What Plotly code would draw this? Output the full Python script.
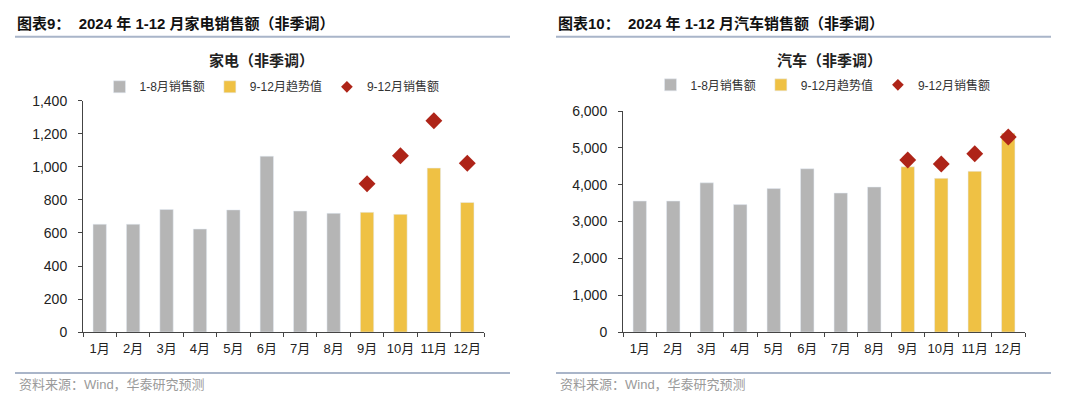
import plotly.graph_objects as go

months = ["1月", "2月", "3月", "4月", "5月", "6月", "7月", "8月", "9月", "10月", "11月", "12月"]
actual_months = months[:8]
trend_months = months[8:]

# 家电 (appliances)
app_actual = [653, 653, 742, 624, 740, 1065, 733, 719]
app_trend = [725, 713, 993, 785]
app_sales = [898, 1068, 1280, 1022]

# 汽车 (autos)
car_actual = [3557, 3557, 4052, 3461, 3896, 4435, 3774, 3939]
car_trend = [4487, 4174, 4365, 5400]
car_sales = [4670, 4565, 4843, 5296]

series_names = ["1-8月销售额", "9-12月趋势值", "9-12月销售额"]
header_titles = ["图表9：  2024 年 1-12 月家电销售额（非季调）", "图表10：  2024 年 1-12 月汽车销售额（非季调）"]
chart_titles = ["家电（非季调）", "汽车（非季调）"]
source_text = "资料来源：Wind，华泰研究预测"

GRAY = "#b5b5b5"
YELLOW = "#efc144"
RED = "#ae2418"
LINE = "#a9b5c9"
FONT = "Liberation Sans, Arial, Noto Sans CJK SC, sans-serif"

W, H = 1080, 408

def px(x):
    return x / W

def py(y):
    return (H - y) / H

fig = go.Figure()

panels = [
    dict(actual=app_actual, trend=app_trend, sales=app_sales, xa="x", ya="y", legend="legend",
         xdom=(83, 484), ydom=(337.3, 96.7), yrange=[0, 1400], dtick=200),
    dict(actual=car_actual, trend=car_trend, sales=car_sales, xa="x2", ya="y2", legend="legend2",
         xdom=(623, 1025), ydom=(337.3, 107.3), yrange=[0, 6000], dtick=1000),
]

for p in panels:
    fig.add_trace(go.Bar(x=actual_months, y=p["actual"], name=series_names[0], marker_color=GRAY,
                         xaxis=p["xa"], yaxis=p["ya"], legend=p["legend"]))
    fig.add_trace(go.Bar(x=trend_months, y=p["trend"], name=series_names[1], marker_color=YELLOW,
                         xaxis=p["xa"], yaxis=p["ya"], legend=p["legend"]))
    fig.add_trace(go.Scatter(x=trend_months, y=p["sales"], name=series_names[2], mode="markers",
                             marker=dict(symbol="diamond", size=13, color=RED), showlegend=False,
                             xaxis=p["xa"], yaxis=p["ya"], legend=p["legend"]))
    # legend-only entry with a smaller symbol
    fig.add_trace(go.Scatter(x=[None], y=[None], name=series_names[2], mode="markers",
                             marker=dict(symbol="diamond", size=9, color=RED),
                             xaxis=p["xa"], yaxis=p["ya"], legend=p["legend"]))

axis_common = dict(showline=True, linecolor="#444", linewidth=1, ticks="outside", ticklen=4,
                   tickcolor="#444", showgrid=False, zeroline=False)

layout_axes = {}
for i, p in enumerate(panels):
    sfx = "" if i == 0 else "2"
    layout_axes["xaxis" + sfx] = dict(axis_common, domain=[px(p["xdom"][0]), px(p["xdom"][1])],
                                      anchor="y" + sfx, type="category", categoryorder="array",
                                      categoryarray=months, tickson="boundaries",
                                      range=[-0.5, 11.5], tickangle=0, ticklabelstandoff=4,
                                      tickfont=dict(family=FONT, size=13, color="#222"))
    layout_axes["yaxis" + sfx] = dict(axis_common, domain=[py(p["ydom"][0]), py(p["ydom"][1])],
                                      anchor="x" + sfx, range=p["yrange"], dtick=p["dtick"],
                                      tickformat=",d", ticklabelstandoff=8,
                                      tickfont=dict(family=FONT, size=14, color="#222"))

legend_common = dict(orientation="h", xanchor="center", yanchor="middle",
                     font=dict(family=FONT, size=12, color="#333"), itemwidth=30,
                     bgcolor="rgba(0,0,0,0)", traceorder="normal")

fig.update_layout(
    width=W, height=H, margin=dict(l=0, r=0, t=0, b=0),
    paper_bgcolor="white", plot_bgcolor="white",
    barmode="overlay", bargap=0.6,
    font=dict(family=FONT, color="#222"),
    **layout_axes,
    legend=dict(legend_common, x=px(272), y=py(82)),
    legend2=dict(legend_common, x=px(823), y=py(80)),
)

annotations = []
shapes = []
for i, (hx, lx0, lx1, tc) in enumerate([(15, 15, 510, 261), (556, 556, 1051, 829)]):
    annotations.append(dict(text="<b>" + header_titles[i] + "</b>", x=px(hx), y=py(16), xref="paper", yref="paper",
                            xanchor="left", yanchor="middle", showarrow=False,
                            font=dict(family=FONT, size=15, color="#111")))
    annotations.append(dict(text="<b>" + chart_titles[i] + "</b>", x=px(tc), y=py(55), xref="paper", yref="paper",
                            xanchor="center", yanchor="middle", showarrow=False,
                            font=dict(family=FONT, size=15, color="#222")))
    annotations.append(dict(text=source_text, x=px(hx + 2), y=py(392), xref="paper", yref="paper",
                            xanchor="left", yanchor="middle", showarrow=False,
                            font=dict(family=FONT, size=13, color="#9a9a9a")))
    for yy in (30, 380):
        shapes.append(dict(type="line", xref="paper", yref="paper", x0=px(lx0), x1=px(lx1),
                           y0=py(yy), y1=py(yy), line=dict(color=LINE, width=2)))

fig.update_layout(annotations=annotations, shapes=shapes)

fig.write_html("out.html")
